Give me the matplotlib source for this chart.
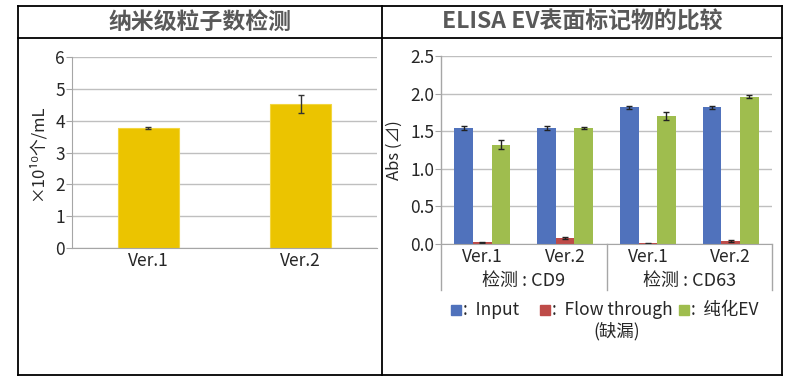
import matplotlib
matplotlib.use("Agg")
import matplotlib.pyplot as plt
from matplotlib.lines import Line2D
from matplotlib.patches import Rectangle

plt.rcParams['font.family'] = ['Noto Sans CJK SC', 'DejaVu Sans']

# ---- data ----
left_title = "纳米级粒子数检测"
right_title = "ELISA EV表面标记物的比较"
left_cats = ["Ver.1", "Ver.2"]
left_vals = [3.77, 4.53]
left_errs = [0.03, 0.29]
left_ylabel = "×10¹⁰个/mL"

right_cats = ["Ver.1", "Ver.2", "Ver.1", "Ver.2"]
right_groups = ["检测 : CD9", "检测 : CD63"]
input_vals = [1.54, 1.54, 1.82, 1.82]
input_errs = [0.03, 0.03, 0.02, 0.02]
flow_vals = [0.02, 0.08, 0.01, 0.04]
flow_errs = [0.005, 0.01, 0.005, 0.01]
ev_vals = [1.32, 1.54, 1.70, 1.96]
ev_errs = [0.06, 0.01, 0.05, 0.02]
right_ylabel = "Abs (⊿)"
series_names = ["Input", "Flow through", "纯化EV"]

W, H = 808, 384
fig = plt.figure(figsize=(W / 100, H / 100), dpi=100)

def fx(px):
    return px / W

def fy(py):
    return 1 - py / H

grid_c = "#BFBFBF"
spine_c = "#A6A6A6"
txt_c = "#262626"
title_c = "#595959"

# outer frame
for (x0, y0, x1, y1) in [(18, 6, 782, 6), (18, 375, 782, 375), (18, 6, 18, 375),
                         (782, 6, 782, 375), (382, 6, 382, 375), (18, 38, 782, 38)]:
    fig.add_artist(Line2D([fx(x0), fx(x1)], [fy(y0), fy(y1)], color="black", lw=1.3))

fig.text(fx(200), fy(22), left_title, ha="center", va="center", fontsize=16.5,
         fontweight="bold", color=title_c)
fig.text(fx(582), fy(22), right_title, ha="center", va="center", fontsize=16.5,
         fontweight="bold", color=title_c)

def style(ax):
    for s in ["top", "right"]:
        ax.spines[s].set_visible(False)
    for s in ["left", "bottom"]:
        ax.spines[s].set_color(spine_c)
    ax.yaxis.grid(True, color=grid_c, lw=1)
    ax.set_axisbelow(True)
    ax.tick_params(axis="y", colors=spine_c, labelcolor=txt_c, labelsize=12.5, length=4, pad=1)
    ax.tick_params(axis="x", length=0, labelcolor=txt_c, labelsize=12.5, pad=3)

# ---- left chart ----
axL = fig.add_axes([fx(72), fy(248), fx(377) - fx(72), fy(57) - fy(248)])
xl = list(range(len(left_cats)))
axL.bar(xl, left_vals, width=0.4, color="#EBC400", edgecolor="#F2D640", lw=0.8,
        yerr=left_errs, error_kw=dict(ecolor="#333333", elinewidth=1, capsize=2.5, capthick=1))
axL.set_xlim(-0.5, 1.5)
axL.set_ylim(0, 6)
axL.set_yticks(range(0, 7))
axL.set_xticks(xl)
axL.set_xticklabels(left_cats)
axL.set_ylabel(left_ylabel, fontsize=12, color=txt_c, labelpad=7)
style(axL)

# ---- right chart ----
axR = fig.add_axes([fx(441), fy(244), fx(772) - fx(441), fy(56) - fy(244)])
xr = list(range(len(right_cats)))
bw = 0.225
colors = ["#5072BC", "#BE4B48", "#9FBD4E"]
ekw = dict(ecolor="#222222", elinewidth=1, capsize=2, capthick=1)
for i, (vals, errs) in enumerate([(input_vals, input_errs), (flow_vals, flow_errs), (ev_vals, ev_errs)]):
    pos = [x + (i - 1) * bw for x in xr]
    axR.bar(pos, vals, width=bw, color=colors[i], yerr=errs, error_kw=ekw)
axR.set_xlim(-0.5, 3.5)
axR.set_ylim(0, 2.5)
axR.set_yticks([0, 0.5, 1.0, 1.5, 2.0, 2.5])
axR.set_yticklabels(["0.0", "0.5", "1.0", "1.5", "2.0", "2.5"])
axR.set_xticks(xr)
axR.set_xticklabels(right_cats)
axR.set_ylabel(right_ylabel, fontsize=12, color=txt_c, labelpad=5)
style(axR)
axR.spines["left"].set_visible(False)
sep_bottom = -(290 - 244) / 188
for xs in [-0.5, 1.5, 3.5]:
    axR.add_artist(Line2D([xs, xs], [sep_bottom, 1.0 if xs == -0.5 else 0], color=spine_c, lw=1,
                          transform=axR.get_xaxis_transform(), clip_on=False))
for gi, g in enumerate(right_groups):
    axR.text(gi * 2 + 0.5, -(281 - 244) / 188, g, transform=axR.get_xaxis_transform(),
             ha="center", va="center", fontsize=13, color=txt_c)

# legend (manual layout)
ly = fy(310)
items = [(451, colors[0], series_names[0]), (540, colors[1], series_names[1]), (679, colors[2], series_names[2])]
for x, c, name in items:
    fig.add_artist(Rectangle((fx(x), ly - 5 / H), 10 / W, 10 / H, color=c, transform=fig.transFigure))
    fig.text(fx(x + 12), ly, ":  " + name, ha="left", va="center", fontsize=12.5, color=txt_c)
fig.text(fx(617), fy(331), "(缺漏)", ha="center", va="center", fontsize=12.5, color=txt_c)

fig.savefig("out.png", dpi=100, facecolor="white")
